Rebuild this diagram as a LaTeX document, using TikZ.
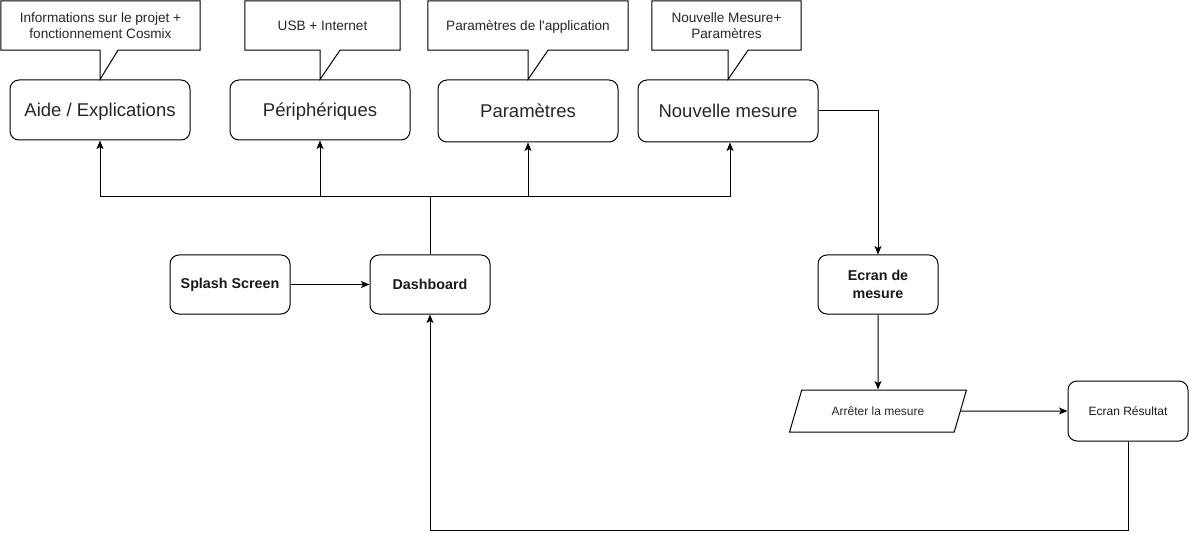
\documentclass[tikz,border=0pt]{standalone}
\usepackage{fontspec}
\setmainfont{Liberation Sans}
\usetikzlibrary{arrows.meta,calc,shapes.geometric}
\begin{document}
\begin{tikzpicture}[x=1pt,y=-1pt,
  ln/.style={line width=1pt, draw=black},
  box/.style={ln, rounded corners=9pt, minimum width=180pt, minimum height=60pt, inner sep=0pt, align=center, text depth=0pt, text=black!85, font=\fontsize{18.5}{22}\selectfont},
  sbox/.style={ln, rounded corners=9pt, minimum width=120pt, minimum height=59pt, inner sep=0pt, align=center, text=black!90},
  boldtxt/.style={font=\fontsize{14.3}{18}\selectfont\bfseries},
  smalltxt/.style={font=\fontsize{12}{14}\selectfont},
  callout/.style={minimum height=49pt, inner sep=0pt, align=center, text depth=0pt, text=black!85, font=\fontsize{13.6}{16.5}\selectfont},
  arr/.style={ln, -{Stealth[length=8.5pt,width=7pt,inset=2pt]}}
]
\useasboundingbox (0,0) rectangle (1189,540);

% main top boxes
\node[box] (aide)  at (100,110) {Aide / Explications};
\node[box] (peri)  at (320,110) {Périphériques};
\node[box, minimum height=62pt] (param) at (528,111) {Paramètres};
\node[box, minimum height=62pt] (nouv)  at (728,111) {Nouvelle mesure};

% callouts
\node[callout, minimum width=199pt] (c1) at (100.5,25.5) {Informations sur le projet +\\fonctionnement Cosmix};
\draw[ln] (c1.north west) -- (c1.north east) -- (c1.south east) -- ($(aide.north |- c1.south)+(18,0)$) -- (aide.north) -- (aide.north |- c1.south) -- (c1.south west) -- cycle;

\node[callout, minimum width=155pt] (c2) at (322.5,25.5) {USB + Internet};
\draw[ln] (c2.north west) -- (c2.north east) -- (c2.south east) -- ($(peri.north |- c2.south)+(20,0)$) -- (peri.north) -- (peri.north |- c2.south) -- (c2.south west) -- cycle;

\node[callout, minimum width=200pt] (c3) at (528,25.5) {Paramètres de l\textquotesingle application};
\draw[ln] (c3.north west) -- (c3.north east) -- (c3.south east) -- ($(param.north |- c3.south)+(20,0)$) -- (param.north) -- (param.north |- c3.south) -- (c3.south west) -- cycle;

\node[callout, minimum width=149pt] (c4) at (726.5,25.5) {Nouvelle Mesure+\\Paramètres};
\draw[ln] (c4.north west) -- (c4.north east) -- (c4.south east) -- ($(nouv.north |- c4.south)+(20,0)$) -- (nouv.north) -- (nouv.north |- c4.south) -- (c4.south west) -- cycle;

% middle row
\node[sbox, boldtxt] (splash) at (230,284.5) {Splash Screen};
\node[sbox, boldtxt] (dash)   at (430,284.5) {Dashboard};
\node[sbox, boldtxt] (ecran)  at (878,284.5) {Ecran de\\mesure};

% bottom row
\node[ln, trapezium, trapezium left angle=50, trapezium right angle=130, trapezium stretches=true,
      minimum width=177pt, minimum height=42pt, inner sep=0pt, smalltxt, text=black!85] (arret) at (878,411) {Arrêter la mesure};
\node[sbox, smalltxt, minimum height=60pt] (res) at (1128,411) {Ecran Résultat};

% connectors
\coordinate (bus) at (430,197);
\coordinate (loop) at (430,530);
\draw[ln] (dash.north) -- (bus);
\draw[arr] (bus) -| (aide.south);
\draw[arr] (bus) -| (peri.south);
\draw[arr] (bus) -| (param.south);
\draw[arr] (bus) -| ([xshift=2pt]nouv.south);
\draw[arr] (splash) -- (dash);
\draw[arr] (nouv.east) -| (ecran.north);
\draw[arr] (ecran) -- (arret);
\draw[arr] (arret) -- (res);
\draw[arr] (res.south) |- (loop) -- (dash.south);
\end{tikzpicture}
\end{document}
